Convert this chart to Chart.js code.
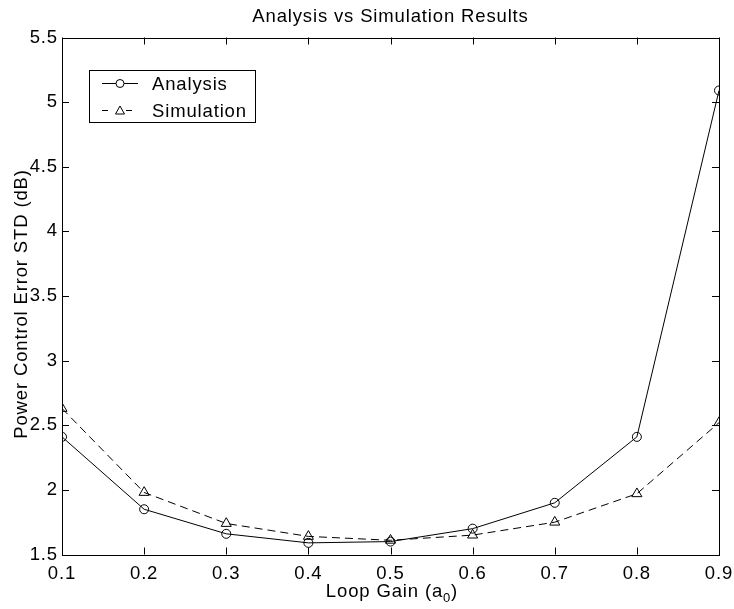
<!DOCTYPE html>
<html>
<head>
<meta charset="utf-8">
<script src="https://cdn.jsdelivr.net/npm/chart.js@4/dist/chart.umd.min.js"></script>
<style>
  html, body { margin: 0; padding: 0; background: #fff; }
  #wrap { width: 734px; height: 609px; position: relative; }
</style>
</head>
<body>
<div id="wrap"><canvas id="c" width="734" height="609"></canvas></div>
<script>
// Loop gain values and measured standard deviations
const loopGain = [0.1, 0.2, 0.3, 0.4, 0.5, 0.6, 0.7, 0.8, 0.9];
const analysisStd = [2.41, 1.85, 1.66, 1.59, 1.60, 1.70, 1.90, 2.41, 5.09];
const simulationStd = [2.63, 1.98, 1.74, 1.64, 1.61, 1.65, 1.75, 1.97, 2.52];
const xTicks = [0.1, 0.2, 0.3, 0.4, 0.5, 0.6, 0.7, 0.8, 0.9];
const yTicks = [1.5, 2, 2.5, 3, 3.5, 4, 4.5, 5, 5.5];

const FONT = '"Liberation Sans", Arial, Helvetica, sans-serif';
const FS = 18.5;          // text size used throughout
const SPACING = '0.85px'; // slightly open tracking

// Tracking applied to all text the chart draws
const tracking = {
  id: 'tracking',
  beforeDraw(chart) { chart.ctx.letterSpacing = SPACING; }
};

// Box frame, inward ticks, title, axis labels and legend
const decor = {
  id: 'decor',
  afterDraw(chart) {
    const { ctx, chartArea: a, scales: { x, y } } = chart;
    ctx.save();
    ctx.letterSpacing = SPACING;
    ctx.strokeStyle = '#000';
    ctx.lineWidth = 1;
    ctx.setLineDash([]);
    ctx.strokeRect(Math.round(a.left) + 0.5, Math.round(a.top) + 0.5,
                   Math.round(a.right - a.left), Math.round(a.bottom - a.top));
    const tl = 7;
    ctx.beginPath();
    xTicks.forEach(v => {
      const px = Math.round(x.getPixelForValue(v)) + 0.5;
      ctx.moveTo(px, a.bottom); ctx.lineTo(px, a.bottom - tl);
      ctx.moveTo(px, a.top); ctx.lineTo(px, a.top + tl);
    });
    yTicks.forEach(v => {
      const py = Math.round(y.getPixelForValue(v)) + 0.5;
      ctx.moveTo(a.left, py); ctx.lineTo(a.left + tl, py);
      ctx.moveTo(a.right, py); ctx.lineTo(a.right - tl, py);
    });
    ctx.stroke();

    // Title
    ctx.fillStyle = '#000';
    ctx.textAlign = 'center';
    ctx.textBaseline = 'alphabetic';
    ctx.font = FS + 'px ' + FONT;
    ctx.fillText('Analysis vs Simulation Results', (a.left + a.right) / 2, 22);

    // X axis label with subscript
    const main = 'Loop Gain (a';
    ctx.textAlign = 'left';
    ctx.font = FS + 'px ' + FONT;
    const w1 = ctx.measureText(main).width;
    const w3 = ctx.measureText(')').width;
    ctx.font = '13px ' + FONT;
    const w2 = ctx.measureText('0').width;
    const sx = 392 - (w1 + w2 + w3) / 2;
    const by = 597;
    ctx.font = FS + 'px ' + FONT;
    ctx.fillText(main, sx, by);
    ctx.font = '13px ' + FONT;
    ctx.fillText('0', sx + w1, by + 5);
    ctx.font = FS + 'px ' + FONT;
    ctx.fillText(')', sx + w1 + w2, by);

    // Y axis label
    ctx.save();
    ctx.translate(27, 304);
    ctx.rotate(-Math.PI / 2);
    ctx.textAlign = 'center';
    ctx.textBaseline = 'alphabetic';
    ctx.fillText('Power Control Error STD (dB)', 0, 0);
    ctx.restore();

    // Legend
    const lx = 89, ly = 70, lw = 166, lh = 52;
    ctx.fillStyle = '#fff';
    ctx.fillRect(lx, ly, lw, lh);
    ctx.strokeRect(lx + 0.5, ly + 0.5, lw, lh);
    const rows = [
      { label: 'Analysis', yy: 83.5, base: 90, dash: [], marker: 'circle' },
      { label: 'Simulation', yy: 110.5, base: 116.5, dash: [6, 6], marker: 'tri' }
    ];
    rows.forEach(r => {
      ctx.setLineDash(r.dash);
      ctx.beginPath();
      ctx.moveTo(102, r.yy); ctx.lineTo(138, r.yy);
      ctx.stroke();
      ctx.setLineDash([]);
      ctx.fillStyle = '#fff';
      if (r.marker === 'circle') {
        ctx.beginPath(); ctx.arc(120, r.yy, 4, 0, Math.PI * 2); ctx.fill(); ctx.stroke();
      } else {
        ctx.fillRect(114, r.yy - 5, 12, 10);
        ctx.beginPath();
        ctx.moveTo(120, r.yy - 4.5);
        ctx.lineTo(124.5, r.yy + 3.5);
        ctx.lineTo(115.5, r.yy + 3.5);
        ctx.closePath();
        ctx.stroke();
      }
      ctx.fillStyle = '#000';
      ctx.font = FS + 'px ' + FONT;
      ctx.textAlign = 'left';
      ctx.textBaseline = 'alphabetic';
      ctx.fillText(r.label, 152, r.base);
    });
    ctx.restore();
  }
};

new Chart(document.getElementById('c'), {
  type: 'line',
  data: {
    labels: loopGain,
    datasets: [
      {
        label: 'Analysis',
        data: loopGain.map((g, i) => ({ x: g, y: analysisStd[i] })),
        borderColor: '#000',
        borderWidth: 1,
        pointStyle: 'circle',
        pointRadius: 4.5,
        pointBorderColor: '#000',
        pointBackgroundColor: 'rgba(0,0,0,0)',
        pointBorderWidth: 1,
        tension: 0,
        fill: false
      },
      {
        label: 'Simulation',
        data: loopGain.map((g, i) => ({ x: g, y: simulationStd[i] })),
        borderColor: '#000',
        borderWidth: 1,
        borderDash: [8, 5],
        pointStyle: 'triangle',
        pointRadius: 5.8,
        pointBorderColor: '#000',
        pointBackgroundColor: 'rgba(0,0,0,0)',
        pointBorderWidth: 1,
        tension: 0,
        fill: false
      }
    ]
  },
  options: {
    responsive: false,
    animation: false,
    devicePixelRatio: 1,
    layout: { padding: { left: 0, right: 15, top: 37.5, bottom: 0 } },
    plugins: {
      legend: { display: false },
      title: { display: false },
      tooltip: { enabled: false }
    },
    scales: {
      x: {
        type: 'linear',
        min: 0.1, max: 0.9,
        afterBuildTicks: s => { s.ticks = xTicks.map(v => ({ value: v })); },
        afterFit: s => { s.height = 54.5; s.paddingLeft = 0; s.paddingRight = 0; },
        grid: { display: false, drawTicks: false },
        border: { display: false },
        ticks: {
          color: '#000',
          font: { family: FONT, size: FS },
          padding: 8,
          maxRotation: 0,
          callback: v => String(v)
        }
      },
      y: {
        type: 'linear',
        min: 1.5, max: 5.5,
        afterBuildTicks: s => { s.ticks = yTicks.map(v => ({ value: v })); },
        afterFit: s => { s.width = 62; s.paddingTop = 0; s.paddingBottom = 0; },
        grid: { display: false, drawTicks: false },
        border: { display: false },
        ticks: {
          color: '#000',
          font: { family: FONT, size: FS },
          padding: 4,
          callback: v => String(v)
        }
      }
    }
  },
  plugins: [tracking, decor]
});
</script>
</body>
</html>
